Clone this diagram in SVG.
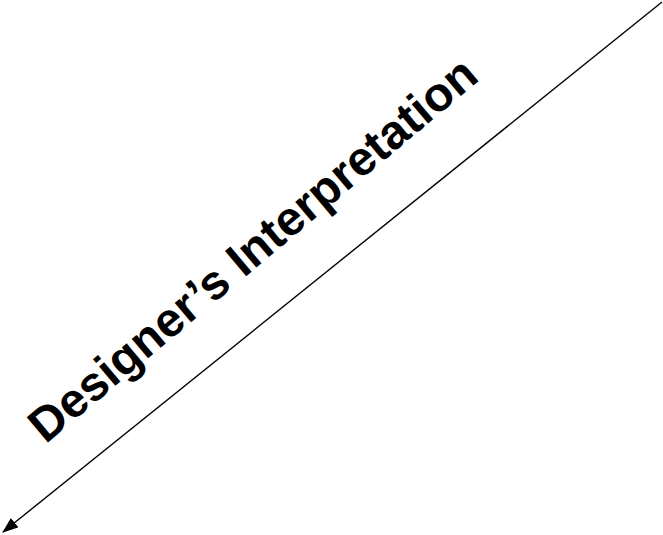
<svg xmlns="http://www.w3.org/2000/svg" width="663" height="535" viewBox="0 0 663 535">
  <defs>
    <marker id="arrow" viewBox="0 0 16 12" refX="15" refY="6" markerWidth="16" markerHeight="12" markerUnits="userSpaceOnUse" orient="auto">
      <path d="M0,0 L16,6 L0,12 Z" fill="#000"/>
    </marker>
    <style>
      .lbl { font-family: "Liberation Sans", Arial, sans-serif; font-weight: bold; font-size: 48px; fill: #000; }
      .conn { stroke: #000; stroke-width: 1.4; fill: none; }
    </style>
  </defs>
  <rect width="663" height="535" fill="#fff"/>
  <g id="connectors">
    <line class="conn" x1="662" y1="2" x2="3" y2="532" style="marker-end:url(#arrow)"/>
  </g>
  <g id="label">
    <text class="lbl" x="0" y="0" text-anchor="middle" transform="translate(263,262) rotate(-40)">Designer’s Interpretation</text>
  </g>
</svg>
